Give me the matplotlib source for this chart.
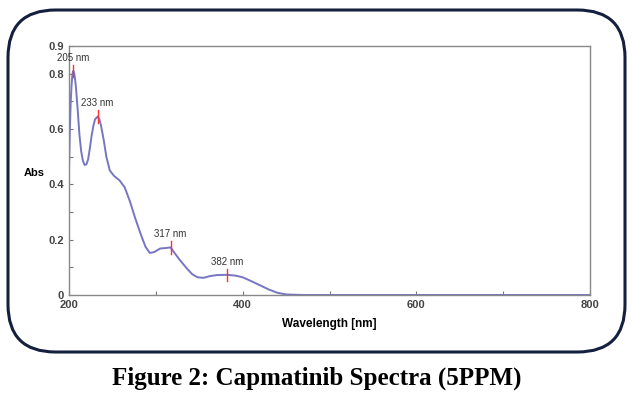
import matplotlib.pyplot as plt
from matplotlib.patches import FancyBboxPatch
from matplotlib.ticker import MultipleLocator

wavelength = [200, 201, 202, 203, 204, 205, 206, 207, 208, 210, 212, 214, 216,
              218, 220, 222, 224, 226, 228, 230, 233, 235, 237, 240, 243, 247,
              252, 258, 264, 270, 276, 282, 288, 293, 298, 305, 312, 317, 322,
              328, 336, 342, 348, 355, 362, 370, 382, 392, 400, 410, 420, 430,
              440, 450, 470, 500, 600, 700, 800]
absorbance = [0.45, 0.60, 0.70, 0.76, 0.80, 0.81, 0.80, 0.78, 0.75, 0.67, 0.58,
              0.52, 0.485, 0.47, 0.472, 0.49, 0.53, 0.575, 0.61, 0.635, 0.645,
              0.635, 0.61, 0.56, 0.50, 0.45, 0.43, 0.415, 0.39, 0.34, 0.28,
              0.225, 0.175, 0.152, 0.155, 0.168, 0.17, 0.172, 0.15, 0.125,
              0.095, 0.075, 0.064, 0.062, 0.068, 0.072, 0.073, 0.070, 0.064,
              0.050, 0.035, 0.020, 0.008, 0.002, 0.0, 0.0, 0.0, 0.0, 0.0]

peak_wl = [205, 233, 317, 382]
peak_abs = [0.81, 0.645, 0.172, 0.073]
peak_labels = ["205 nm", "233 nm", "317 nm", "382 nm"]

fig = plt.figure(figsize=(6.34, 3.99), dpi=100)

# Marco redondeado alrededor del grafico
marco = FancyBboxPatch((8 / 634, 47 / 399), 617 / 634, 342 / 399,
                       boxstyle="round,pad=0,rounding_size=0.075",
                       transform=fig.transFigure, fill=False,
                       edgecolor="#14203d", linewidth=2.2, mutation_aspect=634 / 399)
fig.patches.append(marco)

ax = fig.add_axes([69 / 634, 104 / 399, 521 / 634, 249 / 399])
ax.plot(wavelength, absorbance, color="#7676c4", linewidth=1.4)

for x, y, lab in zip(peak_wl, peak_abs, peak_labels):
    ax.plot([x, x], [y - 0.022, y + 0.022], color="#ff3030", linewidth=1.0)
    ax.text(x, y + 0.03, lab, ha="center", va="bottom", fontsize=7,
            color="#333333", family="Liberation Sans")

ax.set_xlim(200, 800)
ax.set_ylim(0, 0.9)
ax.xaxis.set_major_locator(MultipleLocator(200))
ax.xaxis.set_minor_locator(MultipleLocator(100))
ax.yaxis.set_minor_locator(MultipleLocator(0.1))
ax.set_yticks([0, 0.2, 0.4, 0.6, 0.8, 0.9])
ax.set_yticklabels(["0", "0.2", "0.4", "0.6", "0.8", "0.9"])
ax.tick_params(which="both", direction="in", color="#777777", labelsize=8,
               labelcolor="#444444", width=0.8, length=3)
for lbl in ax.get_xticklabels() + ax.get_yticklabels():
    lbl.set_family("Liberation Sans")
    lbl.set_fontweight("bold")
for s in ax.spines.values():
    s.set_color("#888888")
    s.set_linewidth(1.0)

ax.text(-0.066, 0.49, "Abs", transform=ax.transAxes, ha="center", va="center",
        fontsize=8, fontweight="bold", family="Liberation Sans")
ax.set_xlabel("Wavelength [nm]", fontsize=8.5, fontweight="bold",
              family="Liberation Sans", labelpad=6)

fig.text(0.5, 21 / 399, "Figure 2: Capmatinib Spectra (5PPM)", ha="center",
         va="center", fontsize=18, fontweight="bold", family="Liberation Serif")

fig.savefig("out.png", dpi=100)
